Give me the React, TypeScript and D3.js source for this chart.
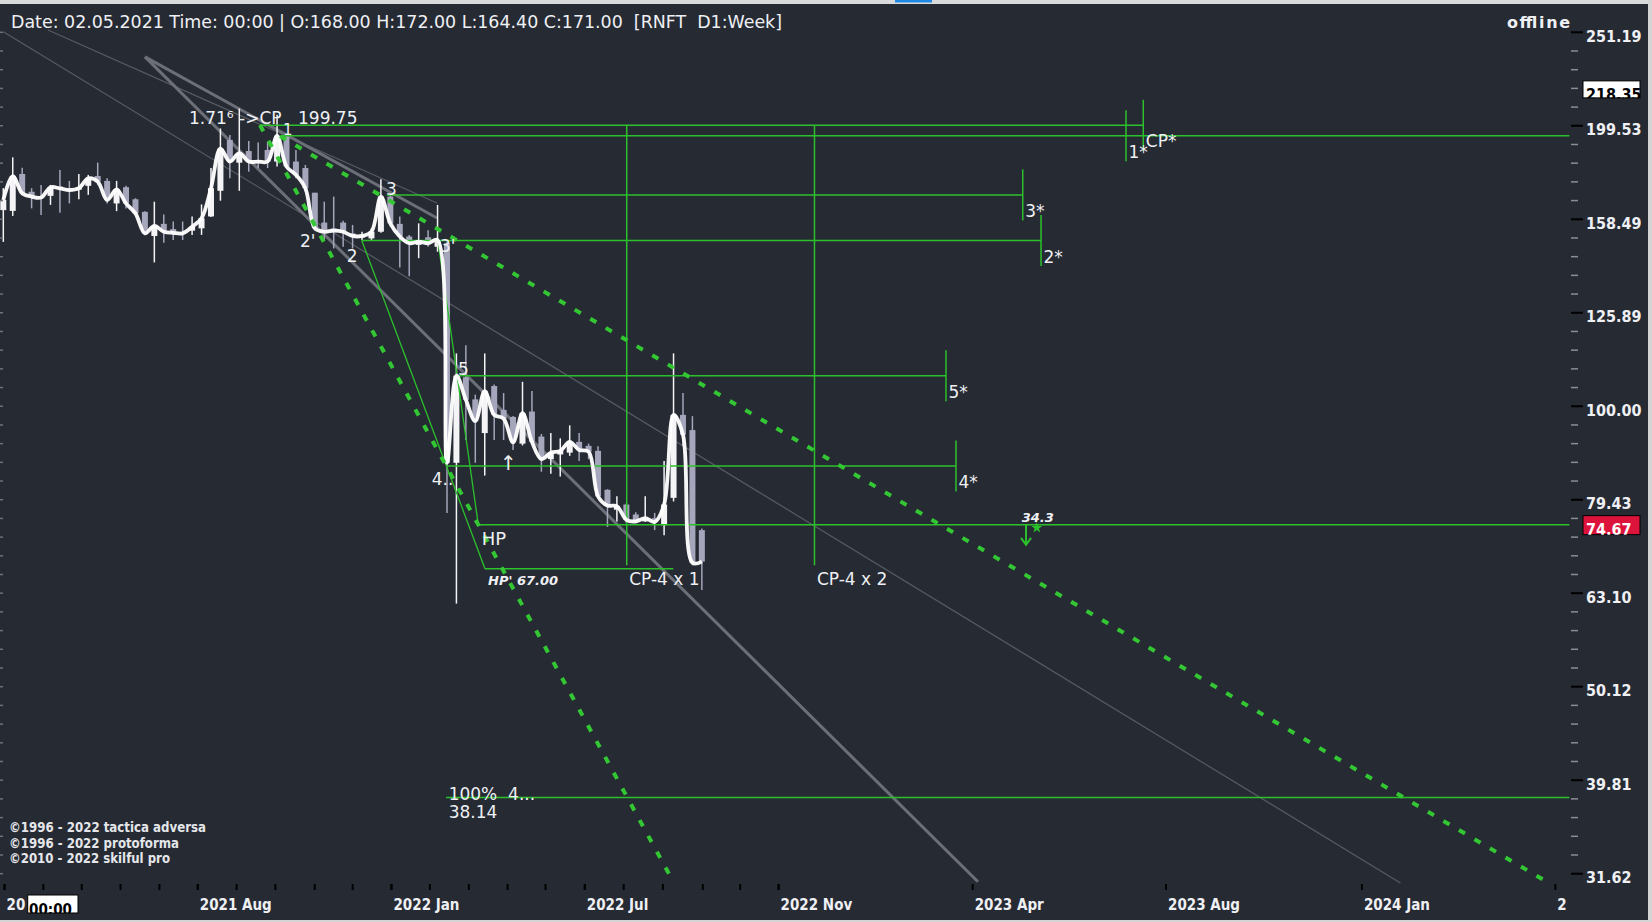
import React from "react";
import * as d3 from "d3";

// weekly candles, RNFT (index 0 = first visible bar)
const opens = [162.1, 161.8, 177.2, 169.6, 167.6, 167.9, 171.8, 171.1, 170.6, 172.1, 176.3, 174.2, 164.8, 171.5, 166.5, 161.4, 152.1, 156.7, 154.7, 153.7, 154.1, 155.0, 159.6, 170.0, 192.7, 182.2, 187.5, 183.4, 188.0, 182.7, 194.3, 182.7, 179.8, 169.2, 157.2, 155.0, 157.2, 153.1, 151.6, 151.2, 153.7, 167.6, 156.7, 151.9, 148.8, 151.6, 148.1, 149.4, 87.0, 107.4, 101.7, 93.6, 105.1, 99.1, 97.4, 91.2, 98.7, 92.8, 87.8, 88.8, 89.2, 91.6, 90.7, 89.6, 81.4, 77.5, 78.5, 76.6, 75.3, 75.9, 74.6, 79.8, 97.9, 94.3, 73.7];
const highs = [171.1, 184.6, 179.9, 171.1, 172.5, 172.5, 178.9, 174.2, 177.2, 176.8, 182.2, 175.3, 174.2, 172.1, 166.9, 161.7, 165.5, 160.4, 157.6, 157.6, 159.6, 164.4, 179.8, 198.2, 195.1, 208.2, 192.2, 191.5, 191.9, 205.0, 195.1, 188.0, 181.2, 169.2, 165.5, 167.6, 157.9, 156.3, 153.7, 155.0, 174.9, 168.3, 159.6, 152.5, 156.9, 154.3, 164.2, 150.0, 113.9, 116.2, 102.9, 113.9, 105.5, 103.3, 97.6, 106.2, 103.8, 93.4, 93.6, 92.4, 95.4, 93.6, 91.2, 90.6, 81.5, 80.1, 78.7, 77.0, 80.1, 76.9, 87.4, 113.9, 103.3, 97.6, 74.0];
const lows = [149.9, 159.8, 168.3, 162.8, 160.2, 164.2, 161.1, 164.8, 166.5, 168.3, 172.5, 164.8, 161.7, 162.8, 160.2, 152.5, 142.5, 149.6, 150.6, 150.6, 152.5, 152.5, 159.4, 165.9, 175.3, 170.0, 178.2, 179.8, 179.8, 180.5, 179.8, 175.3, 169.6, 154.3, 150.6, 147.5, 148.1, 147.5, 150.6, 150.6, 153.3, 155.6, 140.7, 137.7, 144.0, 148.1, 146.3, 76.9, 61.5, 92.0, 87.0, 84.3, 92.0, 92.0, 89.8, 90.8, 91.2, 85.1, 84.7, 84.1, 88.5, 87.4, 87.8, 79.8, 74.3, 75.3, 75.0, 74.9, 75.2, 73.7, 72.8, 79.1, 90.6, 67.6, 63.6];
const closes = [166.2, 176.3, 169.0, 167.6, 167.2, 171.5, 171.0, 170.3, 171.1, 175.3, 173.9, 166.2, 170.6, 164.8, 160.8, 153.1, 155.9, 153.7, 153.3, 153.1, 155.6, 158.9, 171.1, 188.6, 182.7, 186.5, 182.7, 182.7, 182.7, 194.6, 180.5, 176.8, 171.1, 155.0, 153.7, 154.1, 153.7, 152.1, 152.1, 153.7, 167.6, 156.9, 151.9, 149.4, 150.0, 149.4, 150.6, 87.0, 107.8, 101.6, 96.4, 103.8, 97.9, 97.0, 91.5, 98.3, 91.6, 87.8, 89.2, 89.6, 91.6, 89.8, 89.4, 80.1, 78.3, 78.2, 75.6, 75.3, 75.9, 75.2, 78.5, 97.9, 93.2, 68.0, 68.2];

// price axis (log scale) labels
const priceTicks = [251.19, 199.53, 158.49, 125.89, 100.0, 79.43, 63.1, 50.12, 39.81, 31.62];
const markPrice = 218.35;
const bidPrice = 74.67;

// time axis: bar positions of the labels and of the small ticks
const dateTickBars = [0.13, 20.6, 41.12, 61.6, 82.13, 102.69, 123.17, 143.92, 164.41];
const dateTickLabels = ["20", "2021 Aug", "2022 Jan", "2022 Jul", "2022 Nov", "2023 Apr", "2023 Aug", "2024 Jan", "20"];
const smallTickBars = [0.13, 4.24, 8.31, 12.42, 16.54, 20.6, 24.71, 28.82, 32.99, 37.01, 41.12, 45.19, 49.31, 53.42, 57.44, 61.6, 65.72, 69.87, 74.1, 78.06, 82.13];

// trend lines in (bar, price)
const grayThin = [
    [[0, 251.6], [148.0, 30.9]],
    [[4.73, 252.6], [45.94, 165.0]],
];
const grayThick = [
    [[15.01, 236.4], [103.25, 31.0]],
    [[15.01, 236.4], [45.94, 159.0]],
];
const greenDotted = [
    [[27.19, 199.9], [71.05, 30.9]],
    [[29.31, 194.5], [163.74, 30.9]],
];
const greenDiag = [
    [[37.97, 150.4], [51.03, 67.0]],
    [[46.08, 149.4], [50.32, 74.67]],
];
// horizontal levels: price, from bar, to bar
const levelPrices = [199.75, 194.7, 168.3, 150.4, 107.8, 86.3, 74.67, 67.0, 38.14];
const levelFrom = [27.19, 29.49, 40.61, 37.97, 47.96, 46.97, 50.32, 51.03, 46.9];
const levelTo = [120.76, 165.9, 107.99, 109.93, 99.86, 100.92, 165.9, 70.97, 165.9];
// projection verticals
const projBars = [66.04, 85.93];
const projTop = 199.75;
const projBottom = 67.6;
const projLabels = ["CP-4 x 1", "CP-4 x 2"];
// target marks
const targetNames = ["CP*", "1*", "3*", "2*", "5*", "4*"];
const targetPrices = [199.75, 194.7, 168.3, 150.4, 107.8, 86.3];
const targetBars = [120.76, 118.93, 107.99, 109.93, 99.86, 100.92];
// wave labels
const waveText = ["1.71⁶ ->CP", "199.75", "1", "3", "2'", "2", "3'", "5", "4..", "↑", "HP", "100%  4...", "38.14"];
const waveBars = [19.67, 31.22, 29.63, 40.54, 31.43, 36.38, 46.26, 48.17, 45.38, 52.62, 50.68, 47.18, 47.18];
const wavePrices = [200.4, 200.4, 195.1, 168.3, 148.2, 142.8, 146.3, 108.0, 82.4, 85.5, 71.1, 37.9, 36.3];
const smallNotes = [
    { t: "HP' 67.00", bar: 51.35, price: 64.4 },
    { t: "34.3", bar: 107.88, price: 75.1 },
];
const copyright = ["©1996 - 2022 tactica adversa", "©1996 - 2022 protoforma", "©2010 - 2022 skilful pro"];
const header = "Date: 02.05.2021 Time: 00:00 | O:168.00 H:172.00 L:164.40 C:171.00  [RNFT  D1:Week]";

const W = 1652;
const H = 922;
const plotRight = 1570;
const plotTop = 5;
const plotBottom = 884;
const BG = "#262a33";
const GREEN = "#2cc12c";
const DOT = "#34c734";
const TXT = "#eef0f4";
const cond = "'DejaVu Sans Condensed', 'DejaVu Sans', sans-serif";
const sans = "'DejaVu Sans', sans-serif";
const pre = { whiteSpace: "pre" as const };

export default function App() {
    const x = d3.scaleLinear().domain([0, 165.9]).range([3.3, 1569.4]);
    const y = d3.scaleLog().domain([251.19, 31.62]).range([32.3, 873.7]);

    const seg = (s: number[][]) => ({ x1: x(s[0][0]), y1: y(s[0][1]), x2: x(s[1][0]), y2: y(s[1][1]) });

    const closeLine = d3
        .line<number>()
        .x((_, i) => x(i))
        .y((d) => y(d))
        .curve(d3.curveCatmullRom.alpha(0.5));

    // minor ticks on price axis, 4 between majors
    const minorY: number[] = [];
    for (let k = 0; k < priceTicks.length - 1; k++) {
        const a = y(priceTicks[k]);
        const b = y(priceTicks[k + 1]);
        for (let j = 1; j < 5; j++) minorY.push(a + ((b - a) * j) / 5);
    }
    const allY = [...priceTicks.map((p) => y(p)), ...minorY];

    const star = d3.symbol(d3.symbolStar, 38)();
    const labelPrice = 64.4;
    const ax = x(108.34);
    const ay = y(bidPrice);

    return (
        <svg width={W} height={H} style={{ position: "absolute", left: 0, top: 0, display: "block" }}>
            <defs>
                <clipPath id="plot">
                    <rect x={0} y={plotTop} width={plotRight} height={plotBottom - plotTop} />
                </clipPath>
                <clipPath id="timeAxis">
                    <rect x={0} y={plotBottom} width={1567} height={40} />
                </clipPath>
                <clipPath id="markBox">
                    <rect x={1583} y={y(markPrice) - 8.3} width={57} height={17} />
                </clipPath>
                <clipPath id="bidBox">
                    <rect x={1583} y={y(bidPrice) - 9.2} width={57} height={19} />
                </clipPath>
                <clipPath id="timeBox">
                    <rect x={27.7} y={895} width={50.3} height={18} />
                </clipPath>
            </defs>
            <rect width={W} height={H} fill={BG} />

            <g clipPath="url(#plot)">
                {/* gray trend lines */}
                {grayThin.map((s, k) => (
                    <line key={"gt" + k} {...seg(s)} stroke="#585b63" strokeWidth={1.2} />
                ))}
                {grayThick.map((s, k) => (
                    <line key={"gk" + k} {...seg(s)} stroke="#6c6f77" strokeWidth={3} />
                ))}

                {/* candles */}
                {closes.map((c, i) => {
                    const up = c >= opens[i];
                    const col = up ? "#f4f4f6" : "#a5a5bb";
                    const top = y(Math.max(opens[i], c));
                    const bot = y(Math.min(opens[i], c));
                    return (
                        <g key={"c" + i}>
                            <line x1={x(i)} x2={x(i)} y1={y(highs[i])} y2={y(lows[i])} stroke={col} strokeWidth={1.5} />
                            <rect x={x(i) - 3} y={top} width={6} height={Math.max(1.5, bot - top)} fill={col} />
                        </g>
                    );
                })}

                {/* horizontal levels */}
                {levelPrices.map((p, k) => (
                    <line key={"lv" + k} x1={x(levelFrom[k])} x2={x(levelTo[k])} y1={y(p)} y2={y(p)} stroke={GREEN} strokeWidth={1.5} />
                ))}
                {projBars.map((b, k) => (
                    <line key={"pv" + k} x1={x(b)} x2={x(b)} y1={y(projTop)} y2={y(projBottom)} stroke={GREEN} strokeWidth={1.5} />
                ))}
                {greenDiag.map((s, k) => (
                    <line key={"gd" + k} {...seg(s)} stroke={GREEN} strokeWidth={1.3} />
                ))}
                {targetBars.map((b, k) => (
                    <line key={"tv" + k} x1={x(b)} x2={x(b)} y1={y(targetPrices[k]) - 25.5} y2={y(targetPrices[k]) + 25.5} stroke={GREEN} strokeWidth={1.5} />
                ))}

                {/* close line */}
                <path d={closeLine(closes) || ""} fill="none" stroke="#ffffff" strokeWidth={3.8} strokeLinejoin="round" opacity={0.96} />

                {/* dotted channels */}
                {greenDotted.map((s, k) => (
                    <line key={"dt" + k} {...seg(s)} stroke={DOT} strokeWidth={4} strokeDasharray="7 11" />
                ))}

                {/* arrow + star at 34.3 */}
                <line x1={ax} x2={ax} y1={ay} y2={ay + 19} stroke={GREEN} strokeWidth={2} />
                <path d={`M${ax - 5},${ay + 13} L${ax},${ay + 20} L${ax + 5},${ay + 13}`} fill="none" stroke={GREEN} strokeWidth={2} />
                <path d={star || ""} transform={`translate(${x(109.48)},${ay + 3})`} fill={GREEN} />

                {/* labels */}
                {waveText.map((t, k) => (
                    <text
                        key={"wt" + k}
                        x={x(waveBars[k])}
                        y={y(wavePrices[k])}
                        fill={TXT}
                        fontFamily={sans}
                        fontSize={k === 2 ? 15 : k === 9 ? 20 : k === 10 ? 18 : 17}
                        style={pre}
                    >
                        {t}
                    </text>
                ))}
                {projBars.map((b, k) => (
                    <text key={"pl" + k} x={x(b) + 2.5} y={y(labelPrice)} fill={TXT} fontFamily={sans} fontSize={17}>
                        {projLabels[k]}
                    </text>
                ))}
                {smallNotes.map((n, k) => (
                    <text key={"sn" + k} x={x(n.bar)} y={y(n.price)} fill={TXT} fontFamily={sans} fontSize={13} fontStyle="italic" fontWeight="bold">
                        {n.t}
                    </text>
                ))}
                {targetBars.map((b, k) => (
                    <text key={"tl" + k} x={x(b) + 2.5} y={y(targetPrices[k]) + 22} fill={TXT} fontFamily={sans} fontSize={17}>
                        {targetNames[k]}
                    </text>
                ))}
            </g>

            {/* copyright */}
            {copyright.map((c, k) => (
                <text key={"cp" + k} x={9} y={831.7 + k * 15.8} fill="#e4e6ea" fontFamily={cond} fontWeight="bold" fontSize={13.5} textLength={[197, 170, 161][k]} lengthAdjust="spacingAndGlyphs">
                    {c}
                </text>
            ))}

            {/* header */}
            <text x={11} y={28} fill={TXT} fontFamily={cond} fontSize={18} textLength={771} lengthAdjust="spacingAndGlyphs" style={pre}>
                {header}
            </text>
            <text x={1570} y={28} fill={TXT} fontFamily={sans} fontWeight="bold" fontSize={16} textAnchor="end" textLength={63} lengthAdjust="spacing">
                offline
            </text>

            {/* left edge ticks */}
            {allY.map((v, k) => (
                <line key={"le" + k} x1={0} x2={3} y1={v} y2={v} stroke="#6f727a" strokeWidth={1.5} />
            ))}

            {/* price axis */}
            {minorY.map((v, k) => (
                <line key={"mn" + k} x1={1571} x2={1578} y1={v} y2={v} stroke="#8b8e96" strokeWidth={1.5} />
            ))}
            {priceTicks.map((p) => (
                <g key={"pt" + p}>
                    <line x1={1571} x2={1583} y1={y(p)} y2={y(p)} stroke="#000" strokeWidth={2} />
                    <text x={1586} y={y(p) + 9.5} fill={TXT} fontFamily={cond} fontWeight="bold" fontSize={16}>
                        {p.toFixed(2)}
                    </text>
                </g>
            ))}
            <rect x={1583} y={y(markPrice) - 8.3} width={57} height={17} fill="#fff" stroke="#000" strokeWidth={1} />
            <text x={1586} y={y(markPrice) + 11} fill="#000" fontFamily={cond} fontWeight="bold" fontSize={16} clipPath="url(#markBox)">
                {markPrice.toFixed(2)}
            </text>
            <rect x={1583} y={y(bidPrice) - 9.2} width={57} height={19} fill="#dc143c" stroke="#000" strokeWidth={1} />
            <text x={1586} y={y(bidPrice) + 10} fill="#fff" fontFamily={cond} fontWeight="bold" fontSize={16} clipPath="url(#bidBox)">
                {bidPrice.toFixed(2)}
            </text>

            {/* time axis */}
            <g clipPath="url(#timeAxis)">
                {smallTickBars.map((b, k) => (
                    <line key={"st" + k} x1={x(b)} x2={x(b)} y1={plotBottom} y2={plotBottom + 6} stroke="#000" strokeWidth={2} />
                ))}
                {dateTickBars.map((b, k) => (
                    <g key={"dt" + k}>
                        <line x1={x(b)} x2={x(b)} y1={plotBottom} y2={plotBottom + 6} stroke="#000" strokeWidth={2} />
                        <text x={x(b) + 2} y={910} fill={TXT} fontFamily={cond} fontWeight="bold" fontSize={15}>
                            {dateTickLabels[k]}
                        </text>
                    </g>
                ))}
            </g>
            <rect x={27.7} y={895} width={50.3} height={18} fill="#fff" stroke="#000" strokeWidth={1} />
            <text x={29} y={915} fill="#000" fontFamily={cond} fontWeight="bold" fontSize={15} clipPath="url(#timeBox)">
                00:00
            </text>

            {/* window frame */}
            <rect x={0} y={0} width={W} height={4} fill="#dadada" />
            <rect x={895} y={0} width={37} height={2.5} fill="#1e88e5" />
            <rect x={1648} y={0} width={4} height={H} fill="#d4d4d4" />
            <rect x={0} y={920} width={W} height={2} fill="#d4d4d4" />
        </svg>
    );
}
